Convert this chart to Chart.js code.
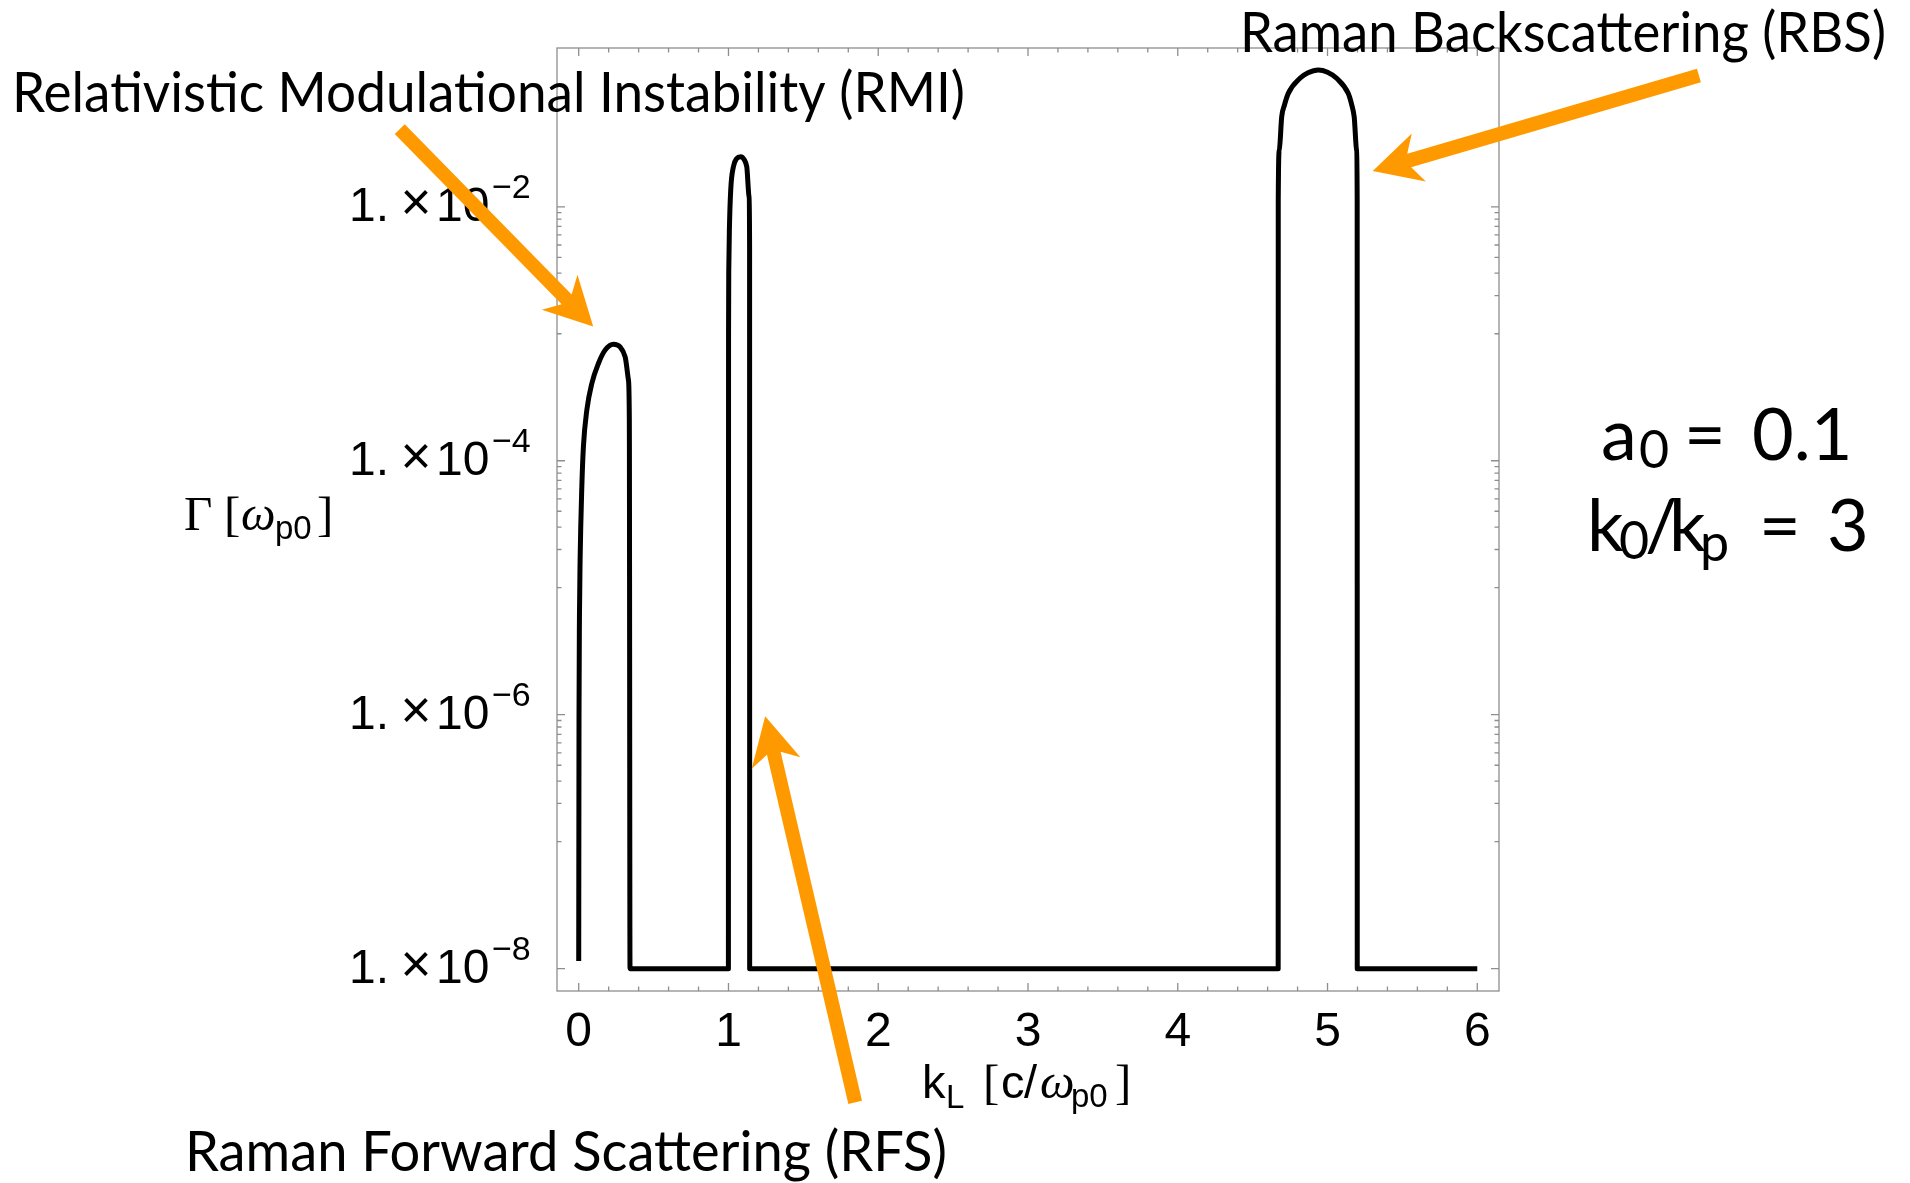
<!DOCTYPE html>
<html>
<head>
<meta charset="utf-8">
<script src="https://cdn.jsdelivr.net/npm/chart.js@4"></script>
<style>
  html, body { margin: 0; padding: 0; background: #fff; }
  canvas { display: block; }
</style>
</head>
<body>
<canvas id="chart" width="1910" height="1183"></canvas>
<script>
// growth rate Gamma [w_p0] against k_L [c/w_p0], a0 = 0.1, k0/kp = 3
const floorGamma = 1e-8

// relativistic modulational instability
const rmiK     = [0, 0.002, 0.005, 0.0093, 0.0207, 0.0314, 0.054, 0.0875, 0.1315, 0.176, 0.232, 0.276, 0.31, 0.332, 0.338, 0.3425]
const rmiGamma = [1.15e-8, 1e-6, 6e-6, 1.65e-5, 6.2e-5, 1.29e-4, 2.5e-4, 4.06e-4, 5.83e-4, 7.43e-4, 8.28e-4, 7.89e-4, 6.58e-4, 4.32e-4, 2.09e-4, 1e-8]

// raman forward scattering
const rfsK     = [0.9995, 1.0005, 1.002, 1.006, 1.015, 1.033, 1.055, 1.082, 1.105, 1.122, 1.1375, 1.141, 1.1415]
const rfsGamma = [1e-8, 1e-3, 3.17e-3, 6.55e-3, 1.36e-2, 2.07e-2, 2.4e-2, 2.48e-2, 2.35e-2, 2.07e-2, 1.2e-2, 4.8e-3, 1e-8]

// raman backscattering
const rbsK     = [4.6705, 4.671, 4.678, 4.694, 4.712, 4.738, 4.816, 4.87, 4.938, 5.0, 5.061, 5.138, 5.16, 5.178, 5.194, 5.198, 5.1985]
const rbsGamma = [1e-8, 1.13e-2, 2.8e-2, 5.12e-2, 6.3e-2, 7.82e-2, 0.1028, 0.1135, 0.1194, 0.1148, 0.1028, 0.0782, 0.0646, 0.0512, 0.028, 0.0113, 1e-8]

const lastK = 6

const xTicks = [0, 1, 2, 3, 4, 5, 6]
const yTicks = [1e-2, 1e-4, 1e-6, 1e-8]
const yTickExp = ["\u22122", "\u22124", "\u22126", "\u22128"]

// arrows: [k, gamma] of tail and tip
const arrows = [
  {from: [-1.195, 0.0409], to: [0.0968, 1.14e-3]},
  {from: [1.846, 8.85e-10], to: [1.245, 9.73e-7]},
  {from: [7.48, 0.108], to: [5.302, 0.0191]}
]

const points = []
rmiK.forEach((k, i) => points.push({x: k, y: rmiGamma[i]}))
rfsK.forEach((k, i) => points.push({x: k, y: rfsGamma[i]}))
rbsK.forEach((k, i) => points.push({x: k, y: rbsGamma[i]}))
points.push({x: lastK, y: floorGamma})

const SANS = '"Liberation Sans", Arial, sans-serif'
const SERIF = '"Liberation Serif", "Times New Roman", serif'
const LABEL = 'Lato, "Open Sans", sans-serif'
const orange = "#ff9900"

function fitText(ctx, text, left, right, base, font) {
  ctx.font = font
  const w = ctx.measureText(text).width
  ctx.save()
  ctx.translate(left, base)
  ctx.scale((right - left) / w, 1)
  ctx.textAlign = "left"
  ctx.fillText(text, 0, 0)
  ctx.restore()
}

function piece(ctx, text, x, base, font) {
  ctx.font = font
  ctx.fillText(text, x, base)
}

const frame = {
  id: "frame",
  beforeDatasetsDraw(chart) {
    const {ctx, chartArea: a, scales: {x, y}} = chart
    ctx.save()
    ctx.strokeStyle = "#8e8e8e"
    ctx.lineWidth = 1.3
    ctx.strokeRect(a.left, a.top, a.right - a.left, a.bottom - a.top)
    ctx.beginPath()
    for (let i = 0; i <= 30; i++) {
      const px = x.getPixelForValue(i / 5)
      const len = i % 5 === 0 ? 8 : 4.5
      ctx.moveTo(px, a.bottom); ctx.lineTo(px, a.bottom - len)
      ctx.moveTo(px, a.top); ctx.lineTo(px, a.top + len)
    }
    yTicks.forEach(v => {
      const minors = v > 5e-8 ? [1, 0.9, 0.8, 0.7, 0.6, 0.5, 0.4, 0.3, 0.2, 0.1] : [1]
      minors.forEach(m => {
        const py = y.getPixelForValue(v * m)
        const len = m === 1 ? 8 : 4.5
        ctx.moveTo(a.left, py); ctx.lineTo(a.left + len, py)
        ctx.moveTo(a.right, py); ctx.lineTo(a.right - len, py)
      })
    })
    ctx.stroke()

    // tick labels
    ctx.fillStyle = "#000"
    ctx.textAlign = "center"
    ctx.font = "48px " + SANS
    xTicks.forEach(v => ctx.fillText(String(v), x.getPixelForValue(v), a.bottom + 55))
    ctx.textAlign = "left"
    yTicks.forEach((v, i) => {
      const py = y.getPixelForValue(v)
      piece(ctx, "1.", a.left - 208, py + 14, "48px " + SANS)
      ctx.textAlign = "center"
      piece(ctx, "\u00d7", a.left - 141, py + 13, "53px " + SANS)
      ctx.textAlign = "left"
      piece(ctx, "10", a.left - 121, py + 14, "48px " + SANS)
      piece(ctx, yTickExp[i], a.left - 65, py - 8.5, "34px " + SANS)
    })

    // axis titles
    piece(ctx, "\u0393", 184, 530, "49px " + SERIF)
    piece(ctx, "[", 224, 530, "49px " + SERIF)
    piece(ctx, "\u03c9", 241, 530, "italic 49px " + SERIF)
    piece(ctx, "p0", 275, 539, "33px " + SANS)
    piece(ctx, "]", 317, 530, "49px " + SERIF)

    piece(ctx, "k", 922, 1098, "47px " + SANS)
    piece(ctx, "L", 946, 1108, "33px " + SANS)
    piece(ctx, "[", 983, 1098, "49px " + SERIF)
    piece(ctx, "c", 1001, 1098, "47px " + SANS)
    piece(ctx, "/", 1024, 1098, "47px " + SANS)
    piece(ctx, "\u03c9", 1040, 1098, "italic 49px " + SERIF)
    piece(ctx, "p0", 1071, 1107, "33px " + SANS)
    piece(ctx, "]", 1115, 1098, "49px " + SERIF)
    ctx.restore()
  }
}

const notes = {
  id: "notes",
  afterDraw(chart) {
    const {ctx, scales: {x, y}} = chart
    ctx.save()
    ctx.fillStyle = "#000"
    fitText(ctx, "Relativistic Modulational Instability (RMI)", 12, 965, 112, "57px " + LABEL)
    fitText(ctx, "Raman Backscattering (RBS)", 1240, 1886, 52, "57px " + LABEL)
    fitText(ctx, "Raman Forward Scattering (RFS)", 185, 947, 1171, "57px " + LABEL)

    piece(ctx, "a", 1601, 460, "72px " + LABEL)
    piece(ctx, "0", 1639, 468, "52px " + LABEL)
    piece(ctx, "=", 1684, 460, "72px " + LABEL)
    piece(ctx, "0.1", 1752, 460, "72px " + LABEL)
    piece(ctx, "k", 1587, 551, "72px " + LABEL)
    piece(ctx, "0", 1619, 559, "52px " + LABEL)
    piece(ctx, "/", 1645, 551, "72px " + LABEL)
    piece(ctx, "k", 1669, 551, "72px " + LABEL)
    piece(ctx, "p", 1700, 561, "52px " + LABEL)
    piece(ctx, "=", 1759, 551, "72px " + LABEL)
    piece(ctx, "3", 1827, 551, "72px " + LABEL)

    // orange arrows
    ctx.fillStyle = orange
    arrows.forEach(ar => {
      const x0 = x.getPixelForValue(ar.from[0]), y0 = y.getPixelForValue(ar.from[1])
      const x1 = x.getPixelForValue(ar.to[0]), y1 = y.getPixelForValue(ar.to[1])
      const len = Math.hypot(x1 - x0, y1 - y0)
      const ux = (x1 - x0) / len, uy = (y1 - y0) / len
      const nx = -uy, ny = ux
      const sw = 7, hw = 25, hl = 48, neck = 38
      const pt = (along, side) => [x1 - ux * along + nx * side, y1 - uy * along + ny * side]
      const poly = [
        [x0 + nx * sw, y0 + ny * sw], pt(neck, sw), pt(hl, hw), [x1, y1],
        pt(hl, -hw), pt(neck, -sw), [x0 - nx * sw, y0 - ny * sw]
      ]
      ctx.beginPath()
      poly.forEach((p, i) => i ? ctx.lineTo(p[0], p[1]) : ctx.moveTo(p[0], p[1]))
      ctx.closePath()
      ctx.fill()
    })
    ctx.restore()
  }
}

const chartGamma = document.getElementById("chart")
new Chart(chartGamma, {
  type: "line",
  data: {
    datasets: [{
      data: points,
      borderColor: "#000",
      borderWidth: 5,
      pointRadius: 0,
      fill: false,
      cubicInterpolationMode: "monotone",
      borderJoinStyle: "round"
    }]
  },
  options: {
    responsive: false,
    animation: false,
    devicePixelRatio: 1,
    layout: {padding: {left: 557, right: 411, top: 48, bottom: 192}},
    plugins: {legend: {display: false}, tooltip: {enabled: false}},
    scales: {
      x: {type: "linear", min: -0.145, max: 6.145, bounds: "data", display: false},
      y: {type: "logarithmic", min: 6.67e-9, max: 0.178, bounds: "data", display: false}
    }
  },
  plugins: [frame, notes]
})
</script>
</body>
</html>
